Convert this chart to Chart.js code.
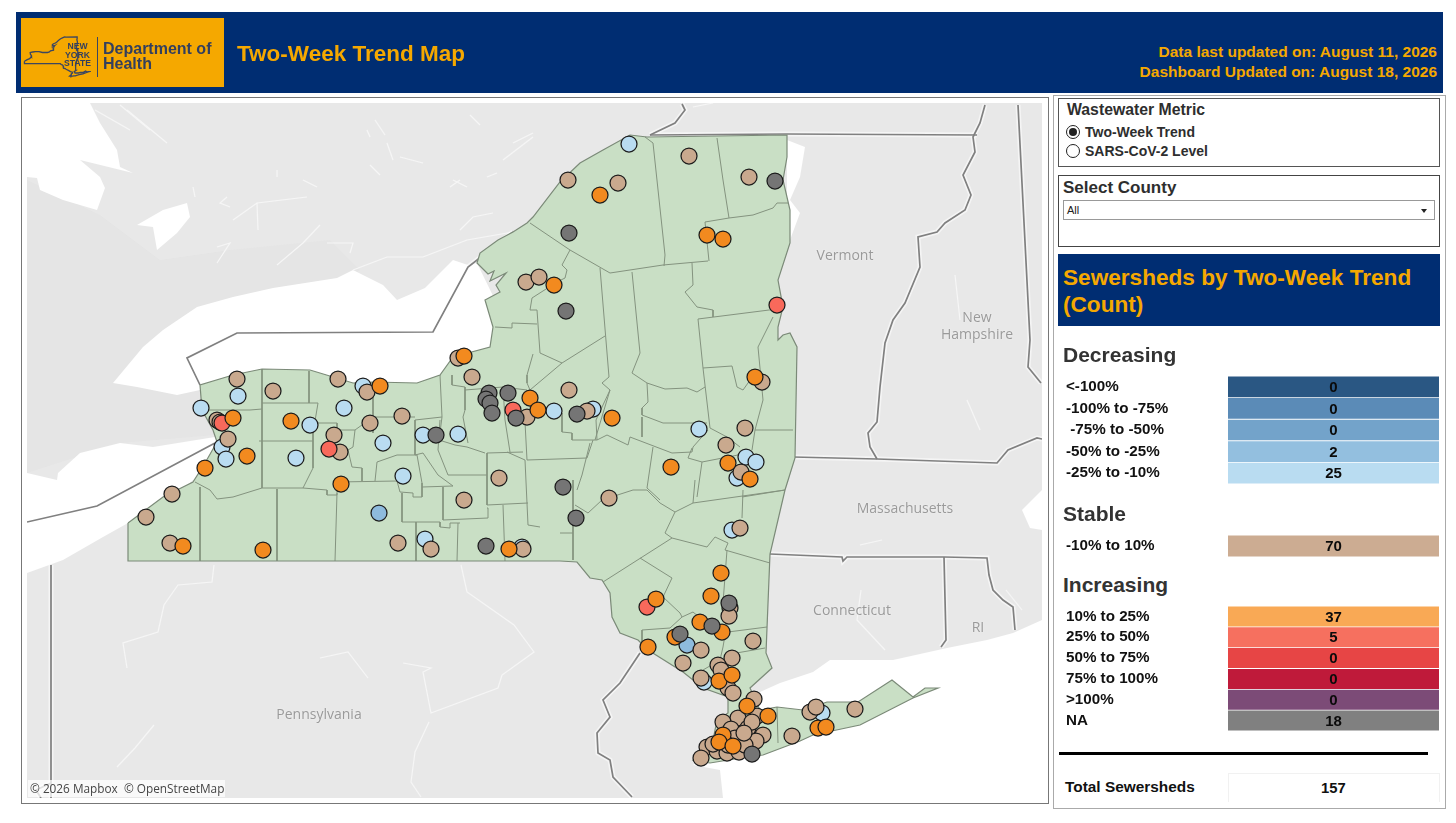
<!DOCTYPE html>
<html><head><meta charset="utf-8">
<style>
html,body{margin:0;padding:0;background:#fff;width:1456px;height:823px;overflow:hidden;font-family:"Liberation Sans",Arial,sans-serif}
.a{position:absolute}
.t{position:absolute;white-space:pre;transform:translateY(-50%);line-height:1}
.b{font-weight:700}
.maplabel{position:absolute;color:#9a9a9a;font:400 14px "Open Sans","Noto Sans",sans-serif;text-align:center;transform:translate(-50%,-50%);line-height:17px;text-shadow:0 0 2px #f4f4f4;white-space:pre}
canvas{position:absolute;display:block}
</style></head><body>
<div class="a" style="left:16px;top:12px;width:1427px;height:81px;background:#002d72"></div>
<div class="a" style="left:21px;top:18px;width:203px;height:69px;background:#f5a800"></div>
<canvas id="logo" width="68" height="42" style="left:23px;top:36px"></canvas>
<div class="a b" style="left:63px;top:42px;font-size:8.6px;line-height:8.6px;color:#333f5e;text-align:center;width:29px">NEW<br>YORK<br>STATE</div>
<div class="a" style="left:97px;top:37px;width:1px;height:40px;background:#3b4660"></div>
<div class="t b" style="left:103px;top:49px;font-size:16px;color:#333f5e">Department of</div>
<div class="t b" style="left:103px;top:64px;font-size:16px;color:#333f5e">Health</div>
<div class="t b" style="left:237px;top:54px;font-size:22.5px;color:#f5a800">Two-Week Trend Map</div>
<div class="t b" style="right:19px;top:52px;font-size:15.5px;color:#f5a800">Data last updated on: August 11, 2026</div>
<div class="t b" style="right:19px;top:72px;font-size:15.5px;color:#f5a800">Dashboard Updated on: August 18, 2026</div>

<div class="a" style="left:21px;top:97px;width:1026px;height:705px;border:1px solid #777;background:#fff"></div>
<canvas id="map" width="1015" height="695" style="left:27px;top:103px;background:#e8e8e8"></canvas>
<div class="maplabel" style="left:845px;top:254px">Vermont</div>
<div class="maplabel" style="left:977px;top:325px">New
Hampshire</div>
<div class="maplabel" style="left:905px;top:507px">Massachusetts</div>
<div class="maplabel" style="left:852px;top:609px">Connecticut</div>
<div class="maplabel" style="left:978px;top:626px">RI</div>
<div class="maplabel" style="left:319px;top:713px">Pennsylvania</div>
<div class="a" style="left:28px;top:780px;width:197px;height:17px;background:rgba(255,255,255,.75)"></div>
<div class="t" style="left:30px;top:788px;font:11.8px 'Open Sans',sans-serif;color:#444">© 2026 Mapbox  © OpenStreetMap</div>

<div class="a" style="left:1053px;top:95px;width:391px;height:712px;border:1px solid #aaa"></div>
<div class="a" style="left:1058px;top:98px;width:380px;height:67px;border:1px solid #555"></div>
<div class="t b" style="left:1067px;top:110px;font-size:15.8px;color:#2e2e2e">Wastewater Metric</div>
<div class="a" style="left:1066px;top:125px;width:12px;height:12px;border:1px solid #222;border-radius:50%"></div>
<div class="a" style="left:1069px;top:128px;width:8px;height:8px;background:#222;border-radius:50%"></div>
<div class="t b" style="left:1085px;top:132px;font-size:14px;color:#2e2e2e">Two-Week Trend</div>
<div class="a" style="left:1066px;top:144px;width:12px;height:12px;border:1px solid #222;border-radius:50%"></div>
<div class="t b" style="left:1085px;top:151px;font-size:14px;color:#2e2e2e">SARS-CoV-2 Level</div>

<div class="a" style="left:1058px;top:175px;width:380px;height:70px;border:1px solid #444"></div>
<div class="t b" style="left:1063px;top:187px;font-size:17px;color:#2e2e2e">Select County</div>
<div class="a" style="left:1063px;top:200px;width:370px;height:18px;border:1px solid #999"></div>
<div class="t" style="left:1067px;top:210px;font-size:11px;color:#222">All</div>
<div class="a" style="left:1421px;top:209px;width:0;height:0;border-left:3.5px solid transparent;border-right:3.5px solid transparent;border-top:4px solid #222"></div>

<div class="a" style="left:1058px;top:254px;width:382px;height:72px;background:#002d72"></div>
<div class="a b" style="left:1063px;top:264px;font-size:22.6px;line-height:27px;color:#f5a800;white-space:pre">Sewersheds by Two-Week Trend
(Count)</div>

<div class="t b" style="left:1063px;top:354px;font-size:21px;color:#333">Decreasing</div>
<canvas id="barsDec" width="373" height="108" style="left:1066px;top:376px"></canvas>
<div class="t b" style="left:1063px;top:513px;font-size:21px;color:#333">Stable</div>
<canvas id="barsSta" width="373" height="22" style="left:1066px;top:535px"></canvas>
<div class="t b" style="left:1063px;top:584px;font-size:21px;color:#333">Increasing</div>
<canvas id="barsInc" width="373" height="125" style="left:1066px;top:606px"></canvas>
<div class="a" style="left:1059px;top:752px;width:369px;height:3px;background:#000"></div>
<div class="a" style="left:1228px;top:773px;width:210px;height:28px;border:1px solid #f1f1f1;border-bottom:0"></div>
<div class="t b" style="left:1065px;top:787px;font-size:15.4px;color:#111">Total Sewersheds</div>
<div class="t b" style="left:1321px;top:788px;font-size:14.8px;color:#111" id="total"></div>

<script src="https://cdn.jsdelivr.net/npm/chart.js@4"></script>
<script>
// ---------- legend table data ----------
const decreasingLabels = ["<-100%","-100% to -75%"," -75% to -50%","-50% to -25%","-25% to -10%"];
const decreasingCounts = [0,0,0,2,25];
const decreasingColors = ["#2a5783","#5b8bb7","#73a3ca","#93bfdf","#b9dcf1"];
const stableLabels = ["-10% to 10%"];
const stableCounts = [70];
const stableColors = ["#ccac92"];
const increasingLabels = ["10% to 25%","25% to 50%","50% to 75%","75% to 100%",">100%","NA"];
const increasingCounts = [37,5,0,0,0,18];
const increasingColors = ["#f9a955","#f6705f","#e74545","#bf1a3a","#7c4b77","#808080"];
const totalSewersheds = 157;

// ---------- sewershed sites (map x, map y) ----------
const sitesLightBlue = [[238,396],[201,408],[363,386],[344,408],[310,425],[222,447],[226,459],[296,458],[383,443],[423,435],[458,434],[403,476],[425,539],[522,547],[629,144],[554,411],[593,409],[699,429],[746,457],[756,462],[737,478],[732,530],[704,682],[822,713]];
const sitesMidBlue = [[379,513],[687,645]];
const sitesStable = [[237,379],[273,391],[338,379],[367,392],[217,420],[220,422],[228,439],[334,435],[340,452],[370,423],[402,416],[172,494],[146,517],[170,543],[398,543],[431,549],[464,500],[499,478],[458,358],[472,377],[527,417],[523,549],[526,282],[539,277],[568,180],[618,183],[689,156],[749,177],[569,390],[587,411],[762,382],[745,428],[726,445],[741,472],[609,498],[740,528],[730,608],[729,616],[753,641],[701,650],[683,663],[732,658],[718,665],[721,670],[701,678],[728,688],[733,693],[754,699],[757,716],[738,718],[723,722],[731,729],[748,728],[763,735],[756,741],[792,736],[810,712],[816,707],[855,709],[707,747],[717,751],[727,753],[739,752],[701,758],[735,738],[745,745],[728,745],[752,722],[744,733],[713,744]];
const sitesRed = [[222,423],[329,449],[513,410],[777,305],[647,607]];
const sitesOrange = [[233,418],[247,456],[205,468],[291,421],[380,386],[341,484],[183,546],[263,550],[509,549],[464,356],[530,398],[538,410],[600,195],[707,235],[723,239],[554,285],[755,377],[612,418],[671,467],[728,463],[750,479],[721,573],[711,596],[656,599],[700,622],[722,632],[675,637],[648,647],[719,681],[732,675],[747,706],[768,716],[723,735],[719,742],[733,746],[818,728],[826,727]];
const sitesNA = [[436,435],[486,546],[489,393],[508,393],[486,399],[490,403],[492,413],[516,418],[775,181],[569,233],[566,311],[577,414],[563,487],[576,518],[729,603],[712,626],[680,634],[752,754]];

// ---------- base map geometry (map x, map y) ----------
const stateOutline = [[128,523],[128,561],[560,561],[577,562],[590,578],[602,580],[610,593],[612,617],[620,633],[638,640],[648,650],[683,672],[703,688],[728,697],[728,713],[717,720],[713,740],[693,760],[710,763],[747,757],[763,755],[800,741],[813,735],[860,725],[913,698],[938,688],[925,688],[913,697],[892,680],[858,702],[827,702],[803,710],[777,707],[760,710],[750,688],[772,668],[766,653],[770,554],[785,490],[795,458],[797,347],[790,333],[783,335],[778,340],[778,327],[783,307],[778,280],[790,243],[790,210],[783,180],[787,157],[787,135],[647,137],[630,135],[603,150],[580,163],[560,182],[533,217],[527,223],[513,232],[498,240],[480,253],[477,263],[488,274],[494,271],[490,281],[506,273],[496,285],[500,292],[485,300],[493,327],[490,347],[453,357],[440,375],[417,383],[373,382],[353,383],[310,370],[262,369],[233,375],[200,385],[202,410],[213,430],[217,442],[205,463],[193,482],[163,497],[128,523]];
const countyLines = [
 [[262,369],[262,488]],[[262,403],[318,403]],[[259,441],[313,441]],[[309,371],[309,403]],[[200,487],[200,561]],[[277,489],[277,561]],[[337,493],[335,561]],[[416,522],[416,561]],[[458,523],[457,561]],[[503,505],[505,561]],
 [[202,410],[250,410],[262,409]],[[195,482],[210,490],[217,499],[233,497],[262,488]],
 [[262,488],[303,488],[327,490],[327,495],[337,495],[337,482],[397,481]],[[318,403],[313,433],[313,468],[303,488]],
 [[315,423],[337,423],[337,430],[355,430],[353,447],[348,450],[352,467],[362,468],[362,481]],[[373,382],[373,433]],[[355,430],[373,417],[415,417]],[[415,420],[415,455]],[[440,375],[442,417],[415,420]],
 [[375,481],[377,462],[397,455],[417,455],[422,483],[422,497],[413,497],[413,493],[400,492],[397,481]],
 [[415,455],[423,453],[438,475],[453,486],[422,487]],[[440,420],[438,450],[448,475],[487,475]],[[442,417],[439,440],[455,445],[467,447],[485,453]],
 [[402,493],[402,522],[416,522],[440,522],[440,527],[450,528],[450,523],[460,523]],[[443,487],[443,520],[488,518],[488,508],[487,508]],[[487,453],[487,505],[528,503]],
 [[452,375],[452,385],[465,387],[465,410],[463,417],[468,443]],[[465,390],[503,387],[527,390]],[[503,387],[505,420],[510,452]],[[507,452],[525,460],[528,525],[540,527]],
 [[530,223],[570,250],[610,273],[663,265],[708,261]],[[645,137],[653,143],[665,255],[664,266]],[[717,138],[723,180],[729,218]],[[729,218],[705,222],[709,261]],[[729,218],[753,215],[773,208],[777,203],[788,203]],
 [[570,250],[562,265],[567,270],[565,278],[557,282],[532,298],[530,310],[537,310],[540,353],[562,363],[605,336]],[[495,327],[512,328],[512,323],[537,324]],
 [[600,268],[609,377],[602,383],[610,390],[595,440]],[[632,272],[640,353],[632,373],[647,383],[665,389],[687,388],[697,392],[705,387]],[[692,263],[693,285],[685,292],[697,307],[713,310],[713,317]],[[698,319],[777,309]],
 [[698,319],[703,368],[732,366],[737,387],[743,390],[748,383],[757,370]],[[703,368],[710,428]],[[773,317],[758,347],[763,400],[755,430],[752,450]],[[755,430],[793,430]],[[785,490],[742,497]],
 [[647,383],[648,402],[642,408],[642,415],[663,423],[707,423]],[[642,417],[642,437]],[[597,440],[607,435],[628,445],[630,437],[672,453],[692,452],[693,447],[708,430]],[[710,428],[727,437],[740,447]],
 [[692,448],[688,458],[702,462],[697,497]],[[702,462],[738,455]],[[653,447],[647,488],[660,500]],[[590,443],[582,475],[577,490]],[[525,422],[527,460],[587,458],[593,440]],[[487,453],[523,452]],
 [[533,354],[527,375],[527,383],[530,390],[562,363]],[[562,413],[562,432],[572,433],[572,440],[597,440],[596,420],[610,390]],
 [[560,533],[573,533]],[[573,480],[573,560]],[[575,505],[588,513],[602,500],[633,490],[647,490],[660,503],[675,512],[693,503],[785,490]],[[675,512],[665,533],[672,538],[707,547],[715,537],[728,543],[725,550],[770,563]],[[695,480],[693,503]],[[743,490],[742,518]],
 [[672,538],[603,582]],[[640,558],[672,578],[663,597],[680,613],[682,617],[693,612],[705,622]],[[642,630],[670,628],[682,617]],[[642,630],[642,642]],[[727,550],[723,603],[727,623],[723,647],[720,660],[703,670]],[[728,632],[767,627]],[[725,655],[765,648]],[[777,707],[778,743]]
];
const landOntario = [[27,180],[100,215],[160,260],[230,250],[330,240],[360,270],[200,385],[215,435],[120,443],[27,473]];
const waterLakeOntario = [[113,383],[143,347],[163,330],[197,307],[233,297],[273,288],[337,278],[353,270],[383,285],[397,300],[425,288],[453,260],[468,265],[477,263],[495,300],[500,350],[440,385],[373,390],[310,380],[200,390],[177,395],[137,387]];
const waterLakeErie = [[27,473],[57,480],[58,473],[80,453],[120,443],[153,447],[215,437],[222,445],[205,470],[163,505],[128,523],[103,537],[63,560],[27,573]];
const waterAtlantic = [[1042,620],[1013,633],[987,640],[947,648],[893,660],[830,660],[813,672],[780,683],[760,692],[745,705],[730,740],[693,765],[720,770],[723,798],[1042,798]];
const waterGeorgianBay = [[27,103],[90,103],[100,123],[117,150],[120,167],[133,173],[80,160],[100,177],[105,188],[97,210],[63,200],[40,190],[37,178],[27,177]];
const waterInlandLake = [[137,225],[163,210],[187,203],[190,217],[177,233],[157,250],[153,227]];
const waterChamplain = [[787,140],[805,147],[800,177],[790,200],[800,213],[790,240],[787,240]];
const waterCapeBlob = [[1022,510],[1042,490],[1042,530],[1030,528]];
const waterRivers = [
 [[233,220],[257,203],[307,197]],[[257,203],[258,230]],[[277,265],[303,243],[320,225]],[[353,270],[387,257],[423,257],[467,240],[513,232]],[[400,157],[423,163]],[[453,180],[467,187]],[[513,143],[533,133]],[[303,180],[317,187]],[[227,197],[220,203],[230,207]],[[693,107],[713,103]],[[95,110],[130,130]],[[120,105],[150,130]],[[470,115],[480,125]],[[370,165],[380,175]],[[375,120],[385,135]],
 [[387,143],[393,160]],[[460,180],[450,187]],[[487,177],[497,173]],[[493,213],[473,217],[460,230]],[[503,160],[533,137]],[[217,247],[230,243],[217,263]],[[327,243],[353,243],[350,253]],[[370,137],[367,130]],[[127,110],[167,143]],[[193,187],[195,197]],[[277,177],[277,170]],
 [[214,565],[212,582],[178,585],[164,605],[158,632],[123,643],[127,668]],[[461,565],[467,592],[514,625],[534,652],[502,675],[498,688],[431,713],[423,672],[431,668],[403,663]],[[429,722],[415,752],[411,782],[421,797]],[[368,678],[348,652],[320,658]],[[154,725],[135,748],[117,767]],
 [[882,540],[860,545]],[[861,590],[857,620],[885,650]],[[955,275],[960,320]],[[967,400],[980,430]],[[1006,590],[1022,610]]
];
const borderLines = [
 [[27,522],[97,506],[215,443]],[[200,385],[187,358],[237,333],[433,332],[468,267],[490,250],[513,232]],
 [[650,135],[675,123],[685,110],[682,104]],[[650,135],[787,134],[977,135]],
 [[985,105],[980,123],[973,137],[975,152],[963,175],[971,195],[965,210],[945,223],[937,232],[918,237],[920,267],[905,303],[893,320],[885,343],[880,387],[877,422],[868,433],[870,447],[877,459]],
 [[1018,105],[1030,340],[1028,367],[1041,383]],[[793,457],[877,459],[997,463],[1008,450],[1037,438],[1042,439]],
 [[770,554],[842,557],[843,561],[847,557],[944,557],[987,558],[989,575],[993,590],[1003,600],[1013,607],[1015,630]],[[944,557],[946,640],[941,647]],
 [[51,565],[51,798]],[[51,783],[36,790],[41,798]],
 [[640,653],[620,683],[603,700],[610,717],[597,733],[598,753],[610,760],[613,777],[632,797]]
];

// ---------- map chart ----------
const toXY = pts => pts.map(p => ({x:p[0], y:p[1]}));
const sequence = [];
const polygon = (pts, fill) => sequence.push({data:toXY(pts), showLine:true, pointRadius:0, borderWidth:0, borderColor:'transparent', backgroundColor:fill, fill:'shape', tension:0});
const polyline = (pts, col, w) => sequence.push({data:toXY(pts), showLine:true, pointRadius:0, borderWidth:w, borderColor:col, fill:false, tension:0});
const sites = (pts, col) => sequence.push({data:toXY(pts), showLine:false, pointRadius:8, pointBackgroundColor:col, pointBorderColor:'#1c1c1c', pointBorderWidth:1.25, pointHoverRadius:8});

polygon(landOntario, '#e5e5e5');
[waterLakeOntario, waterLakeErie, waterAtlantic, waterGeorgianBay, waterInlandLake, waterChamplain, waterCapeBlob].forEach(w => polygon(w, '#ffffff'));
waterRivers.forEach(r => polyline(r, '#f6f6f6', 1.2));
borderLines.forEach(b => polyline(b, 'rgba(255,255,255,.55)', 5));
borderLines.forEach(b => polyline(b, '#808080', 1.7));
polygon(stateOutline, '#c9dfc5');
countyLines.forEach(c => polyline(c, '#84937f', 1));
polyline(stateOutline, '#7b8a78', 1.2);
sites(sitesLightBlue, '#b9dcf1');
sites(sitesMidBlue, '#8ebbdd');
sites(sitesStable, '#c9a98e');
sites(sitesRed, '#f8695b');
sites(sitesOrange, '#f28a1f');
sites(sitesNA, '#757575');
sequence.forEach((d,i) => d.order = -i);

const quiet = {legend:{display:false}, tooltip:{enabled:false}};
new Chart(document.getElementById('map'), {
  type:'scatter',
  data:{datasets:sequence},
  options:{responsive:false, animation:false, events:[], plugins:quiet, layout:{padding:0, autoPadding:false},
    scales:{x:{type:'linear',min:27,max:1042,display:false}, y:{type:'linear',min:103,max:798,reverse:true,display:false}}}
});

// ---------- logo outline ----------
new Chart(document.getElementById('logo'), {
  type:'scatter',
  data:{datasets:[{data:toXY(stateOutline), showLine:true, pointRadius:0, borderColor:'#3b4660', borderWidth:1.3, fill:false, tension:0}]},
  options:{responsive:false, animation:false, events:[], plugins:quiet, layout:{padding:0, autoPadding:false},
    scales:{x:{type:'linear',min:110,max:960,display:false}, y:{type:'linear',min:120,max:790,reverse:true,display:false}}}
});

// ---------- legend table charts ----------
const cellSpan = 1;
const countText = {
  id:'countText',
  afterDatasetsDraw(chart){
    const ctx = chart.ctx, meta = chart.getDatasetMeta(0);
    ctx.save();
    ctx.font = '700 15px "Liberation Sans"';
    ctx.fillStyle = '#0b0b0b';
    ctx.textAlign = 'center';
    ctx.textBaseline = 'middle';
    chart.options.plugins.countText.counts.forEach((c,i) => {
      ctx.fillText(String(c), chart.scales.x.getPixelForValue(cellSpan/2), meta.data[i].y + 1);
    });
    ctx.restore();
  }
};
function tableChart(id, labels, counts, colors){
  new Chart(document.getElementById(id), {
    type:'bar',
    plugins:[countText],
    data:{labels:labels, datasets:[{data:labels.map(() => cellSpan), backgroundColor:colors, barPercentage:0.96, categoryPercentage:1}]},
    options:{indexAxis:'y', responsive:false, animation:false, events:[], layout:{padding:0, autoPadding:false},
      plugins:{...quiet, countText:{counts:counts}},
      scales:{
        x:{type:'linear',min:0,max:cellSpan,display:false},
        y:{type:'category',grid:{display:false},border:{display:false},
           afterFit(s){s.width=162;s.paddingTop=0;s.paddingBottom=0;},
           ticks:{color:'#111',crossAlign:'far',padding:0,autoSkip:false,font:{family:'"Liberation Sans"',weight:'700',size:15.2}}}
      }}
  });
}
tableChart('barsDec', decreasingLabels, decreasingCounts, decreasingColors);
tableChart('barsSta', stableLabels, stableCounts, stableColors);
tableChart('barsInc', increasingLabels, increasingCounts, increasingColors);
document.getElementById('total').textContent = totalSewersheds;
</script>
</body></html>
